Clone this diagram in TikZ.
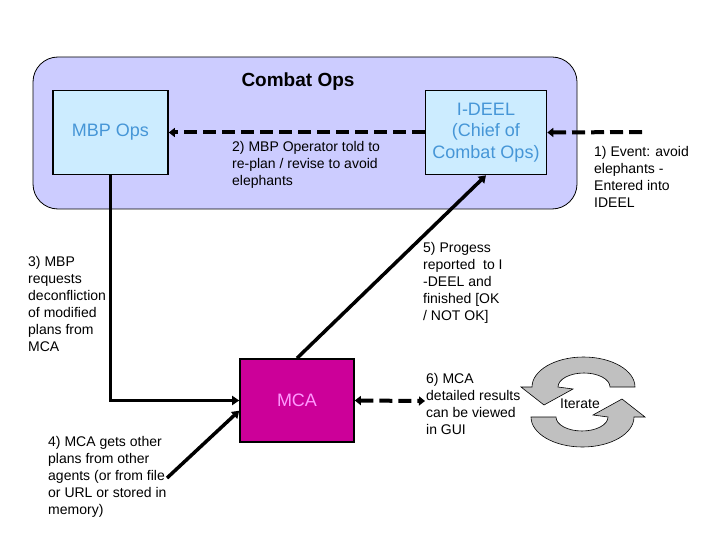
\documentclass[tikz,border=0pt]{standalone}
\usepackage{fontspec}
\setmainfont{Liberation Sans}
\usetikzlibrary{arrows.meta}
\definecolor{opsfill}{RGB}{204,204,255}
\definecolor{boxfill}{RGB}{204,236,255}
\definecolor{boxtext}{RGB}{70,150,215}
\definecolor{mcafill}{RGB}{204,0,153}
\definecolor{mcatext}{RGB}{255,153,255}
\definecolor{loopgray}{RGB}{192,192,192}

\tikzset{
  opsbox/.style={draw, line width=1.6pt, fill=boxfill, text=boxtext, align=center,
    inner sep=0pt, font=\fontsize{18}{21.5}\selectfont},
  note/.style={anchor=north west, inner sep=0pt, align=left, font=\fontsize{14}{17}\selectfont},
  flow/.style={line width=3.5pt, -{Triangle[length=7pt,width=9pt]}},
  event/.style={line width=4pt, dash pattern=on 13pt off 6pt, -{Triangle[length=6pt,width=9pt]}},
  loopshape/.style={draw, line width=0.6pt, fill=loopgray},
}

\begin{document}
\begin{tikzpicture}[x=1pt, y=-1pt]
    \useasboundingbox (0,0) rectangle (720,540);

    % combat ops cell
    \node[draw, line width=0.8pt, fill=opsfill, rounded corners=25pt,
      minimum width=544pt, minimum height=152pt] (cell) at (305,133) {};
    \node[font=\bfseries\fontsize{19}{22}\selectfont] (title) at (298,82) {Combat Ops};

    \node[opsbox, minimum width=115pt, minimum height=84pt] (mbp) at (110.5,132.5) {MBP Ops};
    \node[opsbox, minimum width=121pt, minimum height=84pt] (ideel) at (486,132.5) {I-DEEL\\(Chief of\\Combat Ops)};

    \node[draw, line width=1.6pt, fill=mcafill, text=mcatext, minimum width=114pt,
      minimum height=83pt, font=\fontsize{18}{21}\selectfont] (mca) at (297,400.5) {MCA};

    % free ends
    \coordinate (evt) at (642,132);
    \coordinate (other) at (167,478);
    \coordinate (gui) at (425,401);

    % connectors
    \draw[event] (evt) -- (ideel.east);
    \draw[event] (ideel.west) -- (mbp.east);
    \draw[flow] (mbp.south) |- (mca.west);
    \draw[flow] (other) -- (mca.190);
    \draw[flow] (mca.north) -- (ideel.south);
    \draw[event, {Triangle[length=6pt,width=9pt]}-{Triangle[length=6pt,width=9pt]}] (mca.east) -- (gui);

    % labels
    \node[note] (step1) at (594,146) {1) Event: avoid\\elephants -\\Entered into\\IDEEL};
    \node[note] (step2) at (232,141) {2) MBP Operator told to\\re-plan / revise to avoid\\elephants};
    \node[note] (step3) at (28,256) {3) MBP\\requests\\deconfliction\\of modified\\plans from\\MCA};
    \node[note] (step4) at (48,436) {4) MCA gets other\\plans from other\\agents (or from file\\or URL or stored in\\memory)};
    \node[note] (step5) at (423,242) {5) Progess\\reported~ to I\\-DEEL and\\finished [OK\\/ NOT OK]};
    \node[note] (step6) at (426,373) {6) MCA\\detailed results\\can be viewed\\in GUI};

    % iterate loop
    \foreach \a in {0,180}
      \draw[loopshape, rotate around={\a:(583,402)}]
        (635,387) arc[start angle=0, end angle=-180, x radius=51.5, y radius=30]
        -- (521,387) -- (544,405) -- (573,389) -- (558,387)
        arc[start angle=180, end angle=360, x radius=26, y radius=14] -- cycle;
    \node[font=\fontsize{14}{17}\selectfont] (iter) at (580,404) {Iterate};
\end{tikzpicture}
\end{document}
